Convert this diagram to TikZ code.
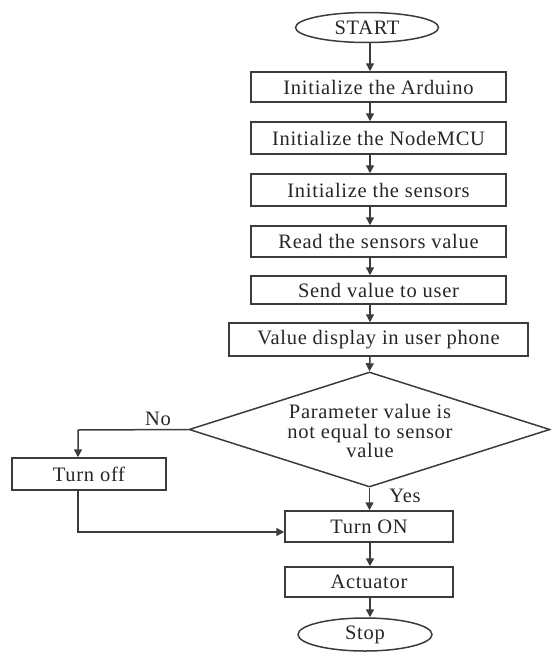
\documentclass[tikz,border=0pt]{standalone}
\usepackage{fontspec}
\setmainfont[LetterSpace=3.5]{Liberation Serif}
\usetikzlibrary{arrows.meta,shapes.geometric}
\definecolor{ln}{HTML}{3C3C3C}
\definecolor{tx}{HTML}{262626}
\tikzset{
  base/.style={draw=ln, line width=1.5pt, inner sep=0pt, text=tx, font=\fontsize{20.5}{22}\selectfont},
  procbox/.style={base, rectangle, minimum width=255pt, minimum height=31pt},
  termin/.style={base, ellipse},
  arr/.style={draw=ln, line width=1.5pt, -{Triangle[length=8pt,width=8pt]}},
  lbl/.style={text=tx, font=\fontsize{20.5}{22}\selectfont, inner sep=0pt}
}
\begin{document}
\begin{tikzpicture}[x=1pt,y=-1pt]
\useasboundingbox (0,0) rectangle (550,653);
\node[termin, minimum width=143pt, minimum height=30pt] (start) at (367,27.5) {START};
\node[procbox, minimum height=30pt] (b1) at (378.5,87) {Initialize the Arduino};
\node[procbox, minimum height=32pt] (b2) at (378.5,138) {Initialize the NodeMCU};
\node[procbox, minimum height=32pt] (b3) at (378.5,190) {Initialize the sensors};
\node[procbox, minimum height=31pt] (b4) at (378.5,241.5) {Read the sensors value};
\node[procbox, minimum height=28pt] (b5) at (378.5,290) {Send value to user};
\node[procbox, minimum width=299pt, minimum height=33pt] (b6) at (378.5,339.5) {Value display in user phone};
\node[base, diamond, minimum width=361pt, minimum height=115pt] (dec) at (369.5,429.5) {};
\node[lbl, align=center, font=\fontsize{20.5}{19.5}\selectfont] (dectext) at (370,431) {Parameter value is\\not equal to sensor\\value};
\node[procbox, minimum width=154pt, minimum height=32pt] (toff) at (89,474) {Turn off};
\node[procbox, minimum width=168pt, minimum height=31pt] (ton) at (369,526.5) {Turn ON};
\node[procbox, minimum width=168pt, minimum height=30pt] (act) at (369,582) {Actuator};
\node[termin, minimum width=134pt, minimum height=33pt] (stop) at (365,634.5) {Stop};
\node[lbl] (no) at (158,419) {No};
\node[lbl] (yes) at (405,496) {Yes};
\coordinate (col) at (370,0);
\coordinate (nocorner) at (78,430);
\coordinate (backcorner) at (78,532);
\draw[arr] (start.south -| col) -- (b1.north -| col);
\draw[arr] (b1.south -| col) -- (b2.north -| col);
\draw[arr] (b2.south -| col) -- (b3.north -| col);
\draw[arr] (b3.south -| col) -- (b4.north -| col);
\draw[arr] (b4.south -| col) -- (b5.north -| col);
\draw[arr] (b5.south -| col) -- (b6.north -| col);
\draw[arr] (b6.south -| col) -- (dec.north);
\draw[arr] (dec.west) -- (nocorner) -- (nocorner |- toff.north);
\draw[arr] (nocorner |- toff.south) -- (backcorner) -- (backcorner -| ton.west);
\draw[arr] (dec.south) -- (ton.north -| dec.south);
\draw[arr] (ton.south -| col) -- (act.north -| col);
\draw[arr] (act.south -| col) -- (stop.north -| col);
\end{tikzpicture}
\end{document}
